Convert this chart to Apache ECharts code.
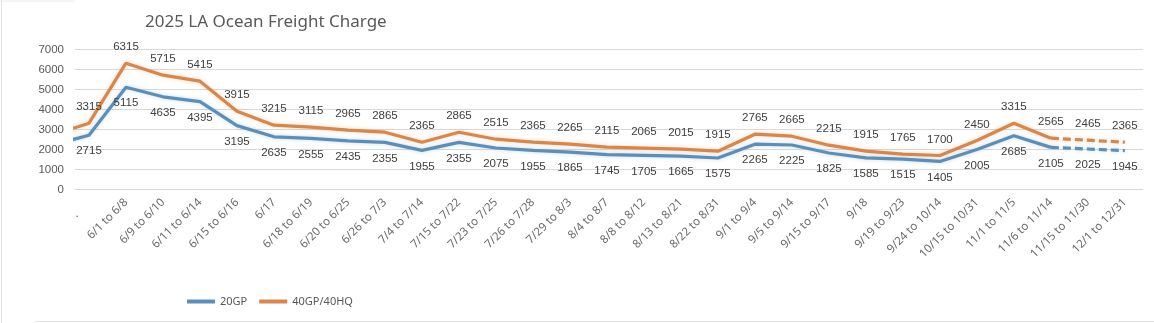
<!DOCTYPE html>
<html>
<head>
<meta charset="utf-8">
<script src="https://cdn.jsdelivr.net/npm/echarts@6/dist/echarts.min.js"></script>
<style>
html,body{margin:0;padding:0;background:#fff;}
#chart{width:1154px;height:323px;}
</style>
</head>
<body>
<div id="chart"></div>
<script>
// Category labels (index 0..28)
const categories = [".      ", "6/1 to 6/8", "6/9 to 6/10", "6/11 to 6/14", "6/15 to 6/16", "6/17",
  "6/18 to 6/19", "6/20 to 6/25", "6/26 to 7/3", "7/4 to 7/14", "7/15 to 7/22", "7/23 to 7/25",
  "7/26 to 7/28", "7/29 to 8/3", "8/4 to 8/7", "8/8 to 8/12", "8/13 to 8/21", "8/22 to 8/31",
  "9/1 to 9/4", "9/5 to 9/14", "9/15 to 9/17", "9/18", "9/19 to 9/23", "9/24 to 10/14",
  "10/15 to 10/31", "11/1 to 11/5", "11/6 to 11/14", "11/15 to 11/30", "12/1 to 12/31"];
const gp20 = [2715, 5115, 4635, 4395, 3195, 2635, 2555, 2435, 2355, 1955, 2355, 2075, 1955, 1865,
  1745, 1705, 1665, 1575, 2265, 2225, 1825, 1585, 1515, 1405, 2005, 2685, 2105, 2025, 1945];
const gp40 = [3315, 6315, 5715, 5415, 3915, 3215, 3115, 2965, 2865, 2365, 2865, 2515, 2365, 2265,
  2115, 2065, 2015, 1915, 2765, 2665, 2215, 1915, 1765, 1700, 2450, 3315, 2565, 2465, 2365];
// value of the clipped point preceding the first category (partly visible at the left edge)
const prev20 = 2215;
const prev40 = 2720;
const dashedFrom = 26; // forecast segment starts here
const yTicks = [0, 1000, 2000, 3000, 4000, 5000, 6000, 7000];

const blue = '#5b8fbb';
const orange = '#d9864a';

function pts(arr, prev, from, to) {
  const out = [];
  if (from < 0) out.push([-1, prev]);
  for (let i = Math.max(from, 0); i <= to; i++) out.push([i, arr[i]]);
  return out;
}
const last = categories.length - 1;

function mk(name, color, data, dashed, pos, showLabelFrom) {
  return {
    name: name, type: 'line', data: data,
    symbol: 'circle', symbolSize: 0.01, showSymbol: true, showAllSymbol: true,
    smooth: false, clip: true,
    lineStyle: {color: color, width: 3.2, type: dashed ? [8, 4] : 'solid',
      shadowColor: color + '50', shadowBlur: 4},
    itemStyle: {color: color},
    label: {show: true, position: pos, distance: 10, color: '#404040', fontSize: 11.5,
      fontFamily: 'Liberation Sans',
      formatter: p => (p.value[0] < showLabelFrom) ? '' : String(p.value[1])},
    labelLayout: {hideOverlap: false},
    emphasis: {disabled: true},
    z: name === '20GP' ? 3 : 2
  };
}

const chart = echarts.init(document.getElementById('chart'), null, {renderer: 'canvas'});
chart.setOption({
  animation: false,
  backgroundColor: '#ffffff',
  title: {text: '2025 LA Ocean Freight Charge', left: 140, top: 9,
    textStyle: {fontSize: 17, fontWeight: 'normal', color: '#595959', fontFamily: 'Noto Sans'}},
  legend: {left: 182, top: 291, itemWidth: 28, itemHeight: 4, itemGap: 12, icon: 'rect',
    data: ['20GP', '40GP/40HQ'],
    textStyle: {fontSize: 11, color: '#595959', fontFamily: 'Noto Sans'}},
  grid: {left: 75, right: 11, top: 49.5, bottom: 133.5, containLabel: false},
  xAxis: {
    type: 'value', min: -0.378, max: 28.49,
    splitLine: {show: false}, axisLine: {show: false}, axisTick: {show: false},
    axisLabel: {customValues: categories.map((c, i) => i), rotate: 45, margin: 11,
      color: '#6b6b6b', fontSize: 11.5, fontFamily: 'Noto Sans',
      formatter: v => categories[Math.round(v)] || ''}
  },
  yAxis: {
    type: 'value', min: yTicks[0], max: yTicks[yTicks.length - 1], interval: 1000,
    axisLine: {show: false}, axisTick: {show: false},
    splitLine: {lineStyle: {color: '#d9d9d9', width: 1}},
    axisLabel: {color: '#595959', fontSize: 11.5, fontFamily: 'Liberation Sans', margin: 11,
      formatter: v => String(v)}
  },
  graphic: [
    {type: 'line', shape: {x1: 1.5, y1: 0, x2: 1.5, y2: 323}, style: {stroke: '#e3e3e3', lineWidth: 1}},
    {type: 'line', shape: {x1: 35, y1: 321.5, x2: 1154, y2: 321.5}, style: {stroke: '#e3e3e3', lineWidth: 1}},
    {type: 'line', shape: {x1: 0, y1: 1, x2: 75, y2: 1}, style: {stroke: '#ececec', lineWidth: 1}}
  ],
  series: [
    mk('40GP/40HQ', orange, pts(gp40, prev40, -1, dashedFrom), false, 'top', 0),
    mk('40GP/40HQ', orange, pts(gp40, prev40, dashedFrom, last), true, 'top', dashedFrom + 1),
    mk('20GP', blue, pts(gp20, prev20, -1, dashedFrom), false, 'bottom', 0),
    mk('20GP', blue, pts(gp20, prev20, dashedFrom, last), true, 'bottom', dashedFrom + 1)
  ]
});
</script>
</body>
</html>
